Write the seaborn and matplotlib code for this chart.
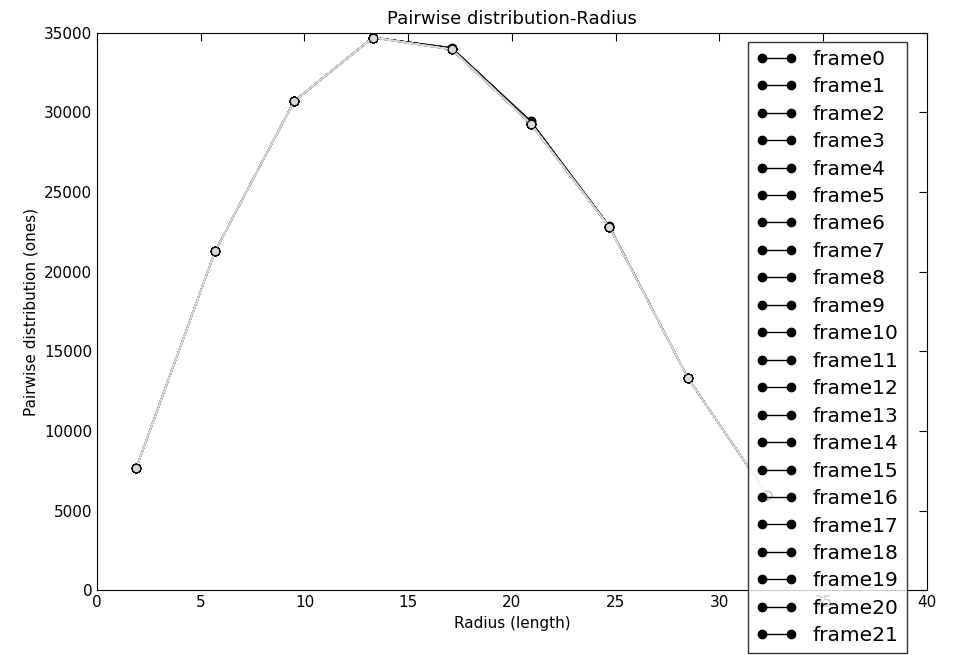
import numpy as np
import pandas as pd
import matplotlib
matplotlib.use('Agg')
import matplotlib.pyplot as plt
from matplotlib.lines import Line2D
import seaborn as sns

sns.set_style('white')
plt.rcParams['font.family'] = ['DejaVu Sans']
plt.rcParams['text.color'] = 'black'
plt.rcParams['axes.labelcolor'] = 'black'
plt.rcParams['xtick.color'] = 'black'
plt.rcParams['ytick.color'] = 'black'

# 数据
radius = [1.9, 5.7, 9.5, 13.3, 17.1, 20.9, 24.7, 28.5, 32.3]
counts = [7700, 21300, 30700, 34700, 33950, 29300, 22800, 13300, 6000]
peak_shift = [0, 0, 0, 0, 100, 150, 50, 0, 0]   # 前几帧略有不同
n_frames = 22
frames = ['frame%d' % i for i in range(n_frames)]

rows = []
for i, f in enumerate(frames):
    for j, r in enumerate(radius):
        v = counts[j] + (peak_shift[j] if i < 4 else 0)
        rows.append({'frame': f, 'radius': r, 'count': v})
df = pd.DataFrame(rows)

greys = [str(g) for g in np.linspace(0.0, 0.85, n_frames)]
palette = dict(zip(frames, greys))

fig = plt.figure(figsize=(9.75, 6.55), dpi=100)
ax = fig.add_axes([0.0995, 0.099, 0.851, 0.851])
sns.lineplot(data=df, x='radius', y='count', hue='frame', palette=palette,
             marker='o', markersize=6, markeredgecolor='black', linewidth=1,
             ax=ax, legend=False)
for ln in ax.lines:
    ln.set_markerfacecolor(ln.get_color())

ax.set_xlim(0, 40)
ax.set_ylim(0, 35000)
ax.set_xticks(range(0, 41, 5))
ax.set_yticks(range(0, 35001, 5000))
ax.tick_params(direction='in', top=True, right=True, length=6, labelsize=11)
for s in ax.spines.values():
    s.set_color('black')
ax.set_title('Pairwise distribution-Radius', fontsize=13)
ax.set_xlabel('Radius (length)', fontsize=11)
ax.set_ylabel('Pairwise distribution (ones)', fontsize=11)

handles = [Line2D([0], [0], color='black', lw=1, marker='o', markersize=6) for _ in frames]
leg = ax.legend(handles, frames, loc='upper left', bbox_to_anchor=(0.785, 0.984),
                numpoints=2, fontsize=14.5, frameon=True, fancybox=False,
                labelspacing=0.42, handlelength=2.0, borderaxespad=0)
leg.get_frame().set_edgecolor('black')
leg.set_zorder(10)

fig.savefig('out.png', dpi=100)
